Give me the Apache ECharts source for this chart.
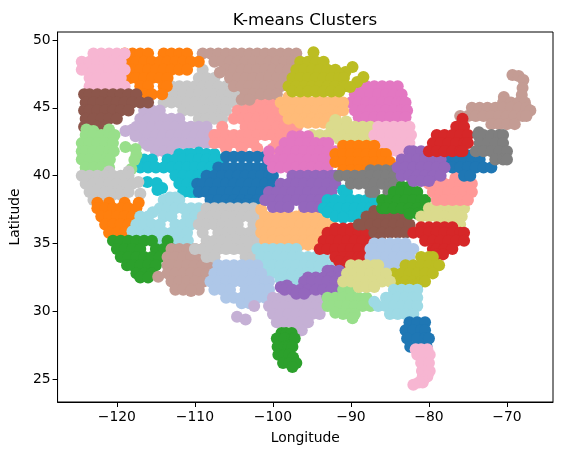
<!DOCTYPE html>
<html><head><meta charset="utf-8">
<script src="https://cdn.jsdelivr.net/npm/echarts@6/dist/echarts.min.js"></script>
<style>html,body{margin:0;padding:0;background:#fff}#c{width:562px;height:455px}</style></head>
<body><div id="c"></div>
<script>
const xTicks=[-120,-110,-100,-90,-80,-70];
const yTicks=[25,30,35,40,45,50];
// each row: [latitude, [longitudes]]
const grayN=[[47.8,[-109]],[47.2,[-109.5,-108.5,-107.5]],[46.6,[-113,-112,-111,-110,-109,-108,-107,-106,-105]],[46,[-114,-113.5,-112.5,-111.5,-110.5,-109.5,-108.5,-107.5,-106.5,-105.5,-104.5]],[45.4,[-114,-113,-112,-111,-110,-109,-108,-107,-106,-105,-104.5]],[44.8,[-111.5,-110.5,-109.5,-108.5,-107.5,-106.5,-106]],[44.2,[-109.5,-108.5,-107.5,-106.5]]];
const brownpinkN=[[49,[-109,-108,-107,-106,-105,-104,-103,-102,-101,-100,-99,-98,-97]],[48.4,[-107.5,-106.5,-105.5,-104.5,-103.5,-102.5,-101.5,-100.5,-99.5,-98.5,-97.5]],[47.8,[-106,-105,-104,-103,-102,-101,-100,-99,-98,-97]],[47.6,[-106.8]],[47.2,[-105.5,-104.5,-103.5,-102.5,-101.5,-100.5,-99.5,-98.5,-97.5]],[46.6,[-105,-104,-103,-102,-101,-100,-99]],[46,[-103.5,-102.5,-101.5,-100.5,-99.5]],[45.6,[-104,-103]]];
const orangeN=[[49,[-119,-118,-117,-116,-114,-113,-112,-111]],[48.4,[-118.5,-117.5,-116.5,-115.5,-114.5,-113.5,-112.5,-111.5,-110.5,-109.5]],[47.8,[-118,-117,-116,-115,-114,-113,-112,-111]],[47.2,[-118.3,-117.5,-116.5,-115.5,-114.5,-113.5]],[46.6,[-117,-116,-114,-113.6]],[46,[-116.5,-115.5,-114.2]]];
const pinkNW=[[49,[-123,-122,-121,-120,-119]],[48.4,[-124.5,-123.5,-122.5,-121.5,-120.5,-119.5]],[47.8,[-124.5,-124,-123,-122,-121,-120,-119]],[47.2,[-123.5,-122.5,-121.5,-120.5,-119.5]],[46.6,[-123.5,-123,-122,-121,-120,-119]]];
const purpleL=[[44.8,[-116.5,-115.5,-114.5]],[44.2,[-117,-116,-115,-114,-113,-112]],[43.6,[-117.5,-116.5,-115.5,-114.5,-113.5,-112.5,-111.5,-110.5,-109.5,-108.5]],[43.4,[-118]],[43.3,[-118.9]],[43,[-117,-116,-115,-114,-113,-112,-111,-110,-109,-108,-107.5]],[42.9,[-117.6]],[42.4,[-116.5,-115.5,-114.5,-113.5,-112.5,-111.5,-110.5,-109.5,-108.5]],[42.2,[-116]],[41.8,[-115,-114,-113]]];
const cyanW=[[41.7,[-109.5]],[41.6,[-112,-111,-110.5,-108.5,-107.5]],[41.2,[-116.5,-115.5,-113.5,-112.5,-111.5,-110.5,-109.5,-108.5,-107.5,-106.5]],[40.6,[-117,-116,-115,-114,-113,-112,-111,-110,-109,-108,-107]],[40,[-112.5,-111.5,-110.5,-109.5,-108.5]],[39.54,[-116.1]],[39.47,[-114.9]],[39.4,[-112,-111,-110,-109]],[39.1,[-114.2]],[38.95,[-114.8]],[38.8,[-111.5,-110.5,-110]]];
const salmonN=[[45.4,[-103,-102,-101,-100,-99.5]],[44.8,[-104.5,-103.5,-102.5,-101.5,-100.5,-99.5,-98.5]],[44.2,[-105,-104,-103,-102,-101,-100,-99,-98,-97.5]],[43.6,[-106.5,-103.5,-102.5,-101.5,-100.5,-99.5,-98.5,-97.5,-96.9]],[43,[-107.5,-107,-106,-105,-104,-103,-102,-101,-100,-99,-98]],[42.4,[-107.5,-106.5,-105.5,-104.5,-103.5,-102.5,-99.5,-98.5]],[42,[-106,-104,-102,-100]]];
const blueC=[[41.4,[-106,-105,-104,-103,-102,-101]],[40.6,[-107,-106,-105,-104,-103,-102,-101,-100.5]],[40,[-108.5,-107.5,-106.5,-105.5,-104.5,-103.5,-102.5,-101.5,-100.5,-100]],[39.4,[-109.7,-109,-108,-107,-106,-105,-104,-103,-102,-101,-100]],[38.8,[-109.5,-108.5,-107.5,-106.5,-105.5,-104.5,-103.5,-102.5,-101.5,-100.5]],[38.2,[-108,-107,-106,-105,-104,-103,-102,-101]],[37.9,[-105.5,-104.5,-103.5,-102.5]]];
const brownNW=[[46,[-124.2,-123.5,-122.5,-121.5,-120.5,-119.5,-118.5,-117.5]],[45.4,[-124,-123,-122,-121,-120,-119,-118,-117,-116]],[44.8,[-124.2,-123.5,-122.5,-121.5,-120.5,-119.5,-118.5]],[44.2,[-124,-123,-122,-121,-120]],[43.6,[-124.2,-123.5,-122.5,-121.5]]];
const greenL=[[43.4,[-123.9,-121]],[43.3,[-123]],[43,[-124,-123,-122,-121,-120.3]],[42.4,[-124.5,-123.5,-122.5,-121.5,-120.5]],[42.12,[-118.9]],[41.97,[-117.6]],[41.8,[-124.5,-124,-123,-122,-121,-120.4]],[41.53,[-117.5]],[41.2,[-124.5,-123.5,-122.5,-121.5,-120.9]],[41.16,[-117.76]],[40.6,[-124,-123,-122,-121]],[40.5,[-118.14]]];
const graySW=[[40.3,[-121,-118.5]],[40,[-124.5,-123.5,-122.5,-121.5,-120.5,-119.5,-118.5]],[39.54,[-117.24]],[39.4,[-124,-123,-122,-121,-120,-119,-118]],[38.8,[-123.5,-122.5,-121.5,-120.5,-119.5,-118.5]],[38.66,[-116.99]],[38.6,[-120.5,-119.5]],[38.2,[-123,-122]]];
const orangeSW=[[38,[-122.5,-121,-119,-117.2]],[37.6,[-122.5,-121.5,-120.5,-119.5,-118.5,-117.5]],[37,[-122,-121,-120,-119,-118]],[36.4,[-121.5,-120.5,-119.5,-118.5]],[35.8,[-121,-120,-119]]];
const paleCyanW=[[38.4,[-113.2,-112.5]],[38.2,[-114,-113,-112]],[37.6,[-114.5,-113.5,-112.5,-111.5,-110.5,-109.5]],[37.3,[-115.4]],[37,[-117,-116,-114,-113,-111,-110]],[36.4,[-117.5,-116.5,-115.5,-114.5,-112.5,-111.5,-110.5]],[35.9,[-118]],[35.8,[-117,-116,-115,-114,-113,-112,-111]],[35.2,[-114.5,-113.5,-112.5,-111.5,-110.9]]];
const greenSW=[[35.2,[-120.5,-119.5,-118.5,-117.5,-116.5,-115.5,-113.5]],[34.6,[-120,-119,-118,-117,-115,-114,-113]],[34,[-119.5,-118.5,-117.5,-116.5,-115.5,-114.5]],[33.4,[-118.7,-118,-117,-116,-115]],[32.8,[-117.5,-116.5,-115.5]],[32.5,[-117,-116]]];
const brownpinkSW=[[34.6,[-113,-112,-111,-110,-109,-108]],[34,[-113.5,-112.5,-111.5,-110.5,-109.5,-108.5,-107.5]],[33.4,[-113.5,-113,-112,-111,-110,-109,-108]],[32.8,[-113.5,-112.5,-111.5,-110.5,-109.5,-108.5]],[32.55,[-114.7]],[32.2,[-113,-112,-111,-110,-109,-108.9]],[31.6,[-112.5,-111.5,-110.5,-109.5]],[31.5,[-110.5]]];
const magentaN=[[46.6,[-89,-88,-87,-86,-85,-84]],[46,[-89.5,-88.5,-87.5,-86.5,-85.5,-84.5,-83.5]],[45.4,[-90,-89,-88,-87,-86,-85,-84,-83.5,-83]],[44.8,[-89.5,-88.5,-87.5,-86.5,-85.5,-84.5,-83.5,-82.8]],[44.3,[-89,-88,-87,-86,-85,-84,-83]]];
const peachN=[[45.8,[-98,-96,-94,-92]],[45.4,[-99,-98,-97,-96,-95,-94,-93,-92,-91]],[44.8,[-98.5,-97.5,-96.5,-95.5,-94.5,-93.5,-92.5,-91.5,-91]],[44.2,[-98,-97,-96,-95,-94,-93,-92]],[43.9,[-96.5,-95.5,-94.5,-93.5]]];
const oliveN=[[49.1,[-94.8]],[48.4,[-96.5,-95.5,-94.5,-93.5]],[48.01,[-89.8]],[47.8,[-97,-96,-95,-94,-93,-92]],[47.64,[-90.7]],[47.4,[-91.5]],[47.28,[-88.4]],[47.2,[-97.5,-96.5,-95.5,-94.5,-93.5,-92.5,-91.5,-90.9]],[46.9,[-89.2]],[46.6,[-98,-97,-96,-95,-94,-93,-92,-91,-90.7]],[46.54,[-90.1]],[46.2,[-97.5,-96.5,-95.5,-94.5,-93.5,-92.5,-91.5]]];
const yellowN=[[44.1,[-92]],[44,[-90.6]],[43.6,[-92.5,-91.5,-90.5,-89.5,-88.5,-87.5]],[43,[-95,-94,-93,-92,-91,-90,-89,-88,-87.5]],[42.7,[-91.5,-90.5,-89.5,-88.5,-87.5]]];
const pinkM=[[43.6,[-86.5,-85.5,-84.5,-83.5,-82.5]],[43,[-87,-86,-85,-84,-83,-82.3]],[42.4,[-86.5,-85.5,-84.5,-83.5,-82.5]],[41.8,[-86,-85,-84,-83]]];
const magentaM=[[42.9,[-97.5,-96.5,-95.5]],[42.4,[-98.5,-97.5,-96.5,-95.5,-94.5,-93.5,-92.9]],[41.8,[-100.5,-99,-98,-97,-96,-95,-94,-93,-92]],[41.2,[-100.5,-99.5,-98.5,-97.5,-96.5,-95.5,-94.5,-93.5,-92.5]],[40.6,[-100,-99,-98,-97,-96,-95,-94,-93]]];
const orangeM=[[42.2,[-91,-90,-89,-88,-87]],[41.6,[-92,-91,-90,-89,-88,-87,-86,-85.5]],[41,[-92,-91,-90,-89,-88,-87,-86,-85]],[40.4,[-91,-90,-89,-88]]];
const purpleM=[[40,[-97.5,-96.5,-95.5,-94.5,-93.5,-92.5,-92]],[39.4,[-99,-98,-97,-96,-95,-94,-93,-92]],[38.8,[-100.5,-99.5,-98.5,-97.5,-96.5,-95.5,-94.5,-93.5,-92.5]],[38.2,[-101,-100,-99,-98,-97,-96,-95,-94,-93]],[37.7,[-100,-99,-98,-96,-95,-94]]];
const grayM=[[40.4,[-87.5,-86.5,-85.5,-84.5]],[40,[-91.5,-90.5,-89.5,-88.5,-87.5,-86.5,-85.5,-84.5,-84.4]],[39.4,[-90,-89,-88,-87,-86,-85,-84.5]],[38.8,[-87.5,-87,-85.2,-84.5]]];
const greenM=[[39.2,[-83.5,-82.5]],[38.8,[-84.5,-83.5,-82.5,-81.5]],[38.2,[-86,-85,-84,-83,-82,-81,-80.5]],[37.6,[-86,-85.5,-84.5,-83.5,-82.5,-81.5,-80.5]],[37.2,[-82.5,-81.5]]];
const cyanM=[[38.9,[-91]],[38.8,[-90.5]],[38.2,[-93,-92,-91,-90,-89,-88,-87]],[37.6,[-93.5,-92.5,-91.5,-90.5,-89.5,-88.5,-87.5]],[37.3,[-93]],[37,[-92,-91,-90,-89]],[36.9,[-91]]];
const brownM=[[37.4,[-87,-85.2]],[37,[-88,-87,-86,-85,-84,-83]],[36.4,[-89,-88.5,-87.5,-86.5,-85.5,-84.5,-83.5,-82.5]],[35.8,[-87,-86,-85,-84,-83]],[35.4,[-86.3]]];
const peachM=[[37.5,[-101.5,-95]],[37.4,[-96]],[37,[-101,-100,-99,-98,-97,-96,-95,-94,-93.5]],[36.4,[-101.5,-100.5,-99.5,-98.5,-97.5,-96.5,-95.5,-94.5,-93.5,-92.5]],[35.8,[-101.5,-101,-100,-99,-98,-97,-96,-95,-94]],[35.2,[-101,-100,-99,-98,-97,-96,-95,-94.8]],[34.9,[-97.5,-96.5,-95.5,-94.5]]];
const grayC=[[37.6,[-108.5,-107.5,-106.5,-105.5,-104.5,-103.5,-102.5]],[37,[-109,-108,-107,-106,-105,-104,-103,-102]],[36.4,[-109.5,-108.5,-107.5,-106.5,-105.5,-104.5,-102.5,-101.5]],[35.8,[-109,-107,-106,-105,-104,-103,-102]],[35.2,[-108.5,-107.5,-106.5,-105.5,-104.5,-103.5,-102.5,-101.9]],[34.6,[-110,-109,-108,-107,-106,-105,-104,-103,-102]],[34,[-108.5,-107.5,-103.5,-102.5]]];
const paleCyanM=[[34.6,[-102,-101,-100,-99,-98,-97]],[34,[-101.5,-100.5,-99.5,-98.5,-97.5,-96.5,-95.5,-94.5,-93.5]],[33.4,[-101,-100,-99,-98,-97,-96,-95,-94,-93,-92.5]],[32.8,[-100.5,-99.5,-98.5,-97.5,-96.5,-95.5,-94.5]],[32.35,[-99,-98,-97]]];
const redM=[[36.1,[-92,-91,-90,-89]],[35.8,[-93,-92,-91,-90,-89,-88]],[35.2,[-93.5,-92.5,-91.5,-90.5,-89.5,-88.5,-87.5]],[34.6,[-94,-93,-92,-91,-90,-89,-88]],[34,[-92,-91,-90,-89,-88.5]],[33.7,[-91.5]],[33.6,[-90.5]]];
const yellowE=[[37.6,[-80,-79.5,-78.5,-77.5,-76.5,-75.5]],[37,[-81,-80,-79,-78,-77,-76,-75.8]],[36.4,[-78,-77,-76]]];
const salmonE=[[39.85,[-76.6]],[39.7,[-78.5]],[39.4,[-80,-79,-78,-77,-76,-75,-74.5]],[38.8,[-79.5,-78.5,-77.5,-76.5,-75.5,-74.5]],[38.2,[-79,-78,-77,-76,-75]]];
const redSE=[[36.2,[-81,-80,-79,-78,-77]],[35.8,[-82,-81,-80,-79,-78,-77,-76,-75.5]],[35.2,[-80.5,-79.5,-78.5,-77.5,-76.5,-75.5]],[34.6,[-79.5,-79,-78,-77]],[34.2,[-79,-78.2]]];
const purpleS=[[33,[-93,-92.5,-91.5]],[32.5,[-95.5,-94.5,-93.5,-92.5,-91.5]],[32.2,[-96,-95,-94,-93,-92,-91]],[31.9,[-98.2]],[31.8,[-99]],[31.6,[-98.5,-97.5,-96.5,-95.5,-94.5,-93.5,-92.5,-91.5]],[31.3,[-97,-96]],[31.2,[-91.3]],[31.1,[-93,-92]]];
const blueSW=[[33.4,[-107,-106,-105,-104,-103,-102]],[32.8,[-107.5,-106.5,-105.5,-104.5,-103.5,-102.5,-101.5]],[32.2,[-108,-107,-106,-105,-104,-103,-102,-101,-100.5]],[31.6,[-107.5,-106.5,-105.5,-103.5,-102.5,-101.5,-100.5]],[31,[-106,-105,-104,-103,-102,-101]],[30.6,[-104,-103]]];
const purpleSW=[[31,[-100,-99,-98,-97,-96,-95,-94]],[30.4,[-102.4,-100.5,-99.5,-98.5,-97.5,-96.5,-95.5,-94.5,-93.5]],[29.8,[-100,-99,-98,-97,-96,-95,-94]],[29.6,[-104.6]],[29.4,[-103.5]],[29.2,[-99.5,-98.5,-97.5,-96.5,-95.5]],[28.6,[-97,-96.3]]];
const greenTX=[[28.4,[-98.9,-98.3,-97.6]],[28,[-99.5,-98.5,-97.5,-97.2]],[27.4,[-99.4,-98.5,-98,-97.5]],[26.8,[-99.3,-98.5,-97.9]],[26.6,[-97.4]],[26.2,[-98.7,-97.9,-97]],[25.9,[-97.5]]];
const greenS=[[31.6,[-91,-90]],[31,[-93,-92,-91,-90,-89,-88]],[30.4,[-93,-92.5,-91.5,-90.5,-89.5,-88.5,-87.5]],[29.9,[-92]],[29.8,[-91,-90,-89.5]],[29.5,[-89.8]]];
const yellowS=[[33.4,[-90,-89,-88,-87,-86.5]],[32.8,[-90.5,-89.5,-88.5,-87.5,-86.5,-85.5]],[32.2,[-91,-90,-89,-88,-87,-86,-85]],[31.8,[-89,-88,-87]]];
const blueE=[[35,[-87,-86,-85,-84,-83]],[34.6,[-87.5,-87,-86,-85,-84,-83,-82]],[34,[-87.5,-86.5,-85.5,-84.5,-83.5,-82.5]],[33.4,[-86,-85,-84]]];
const oliveSE=[[34,[-81,-80,-79.5]],[33.4,[-83,-82,-81,-80,-79,-78.7]],[32.8,[-84.5,-83.5,-82.5,-81.5,-80.5,-79.5]],[32.2,[-84,-83,-82,-81,-80.5]],[31.9,[-83,-82,-81.5]]];
const paleCyanFL=[[31.6,[-84.5,-83.5,-82.5,-81.5]],[31,[-85.5,-85,-84,-83,-82,-81.5]],[30.7,[-87]],[30.4,[-86.5,-85.5,-84.5,-83.5,-82.5,-81.5]],[29.8,[-85,-84,-83,-82]]];
const blueFL=[[29.2,[-82.5,-81.5,-80.5]],[28.6,[-83,-82,-81,-80.5]],[28,[-82.8,-81.5,-80.5,-80]],[27.4,[-82.4,-81,-80.3]]];
const pinkFL=[[27.2,[-81.7,-81,-80.2]],[26.8,[-81.5,-80.5,-79.9]],[26.2,[-81,-80]],[25.6,[-80.9,-80.5,-79.9]],[25.2,[-80.8,-80.2]],[24.95,[-80.7]],[24.75,[-80.8,-81.3]],[24.6,[-82]]];
const brownpinkNE=[[47.42,[-69.3]],[47.35,[-68.5]],[47.05,[-67.9]],[46.47,[-68]],[45.95,[-68.1]],[45.8,[-70.4]],[45.4,[-70.5,-69.5,-68.5,-67.7]],[45,[-74.5,-73.5,-72.5,-71.5,-70.5,-69.5,-68.5,-67.5]],[44.8,[-67]],[44.4,[-76,-75,-74,-73,-72,-71,-70,-69,-68,-67.5]],[43.8,[-72,-71,-70,-69]]];
const redNE=[[44.2,[-75.7]],[43.6,[-76.5,-75.5]],[43,[-79,-78,-77,-76,-75]],[42.4,[-79.5,-78.5,-77.5,-76.5,-75.5,-75]],[41.8,[-80,-79,-78,-77,-76,-75.7]]];
const grayNE=[[43.2,[-73.6]],[43,[-73.7,-73,-72,-71,-70.5]],[42.4,[-73.5,-72.5,-71.5,-70.5]],[41.8,[-74,-73,-72,-71,-70]],[41.2,[-71.5,-70.5,-70]]];
const blueNE=[[41.5,[-76,-75]],[41.2,[-77.5,-76.5,-75.5,-74.5,-73.5]],[40.6,[-77,-76,-75,-74,-73,-72]],[40,[-75.5,-74.7]]];
const purpleNE=[[41.8,[-82.5,-82,-81,-80]],[41.2,[-83.5,-82.5,-81.5,-80.5,-79.5,-78.5]],[40.6,[-84,-83,-82,-81,-80,-79,-78]],[40,[-83.5,-82.5,-81.5,-80.5,-79.5,-78.5]],[39.6,[-82,-81,-80]]];

const tab20={blue:'#1f77b4',lblue:'#aec7e8',orange:'#ff7f0e',peach:'#ffbb78',green:'#2ca02c',lgreen:'#98df8a',red:'#d62728',salmon:'#ff9896',purple:'#9467bd',lpurple:'#c5b0d5',brown:'#8c564b',bpink:'#c49c94',magenta:'#e377c2',pink:'#f7b6d2',gray:'#7f7f7f',lgray:'#c7c7c7',olive:'#bcbd22',yellow:'#dbdb8d',cyan:'#17becf',pcyan:'#9edae5'};
const layers=[
[grayN,'lgray'],[purpleL,'lpurple'],[cyanW,'cyan'],[salmonN,'salmon'],[brownpinkN,'bpink'],[orangeN,'orange'],[pinkNW,'pink'],[brownNW,'brown'],[greenL,'lgreen'],[graySW,'lgray'],[orangeSW,'orange'],[paleCyanW,'pcyan'],[greenSW,'green'],[brownpinkSW,'bpink'],[blueC,'blue'],[magentaN,'magenta'],[peachN,'peach'],[oliveN,'olive'],[yellowN,'yellow'],[pinkM,'pink'],[magentaM,'magenta'],[orangeM,'orange'],[grayC,'lgray'],[peachM,'peach'],[purpleM,'purple'],[paleCyanM,'pcyan'],[cyanM,'cyan'],[grayM,'gray'],[redM,'red'],[brownM,'brown'],[greenM,'green'],[yellowE,'yellow'],[salmonE,'salmon'],[redSE,'red'],[blueSW,'lblue'],[purpleSW,'lpurple'],[purpleS,'purple'],[greenTX,'green'],[greenS,'lgreen'],[blueE,'lblue'],[oliveSE,'olive'],[yellowS,'yellow'],[paleCyanFL,'pcyan'],[blueFL,'blue'],[pinkFL,'pink'],[brownpinkNE,'bpink'],[blueNE,'blue'],[purpleNE,'purple'],[redNE,'red'],[grayNE,'gray']
];
const pts=rows=>rows.flatMap(([lat,lons])=>lons.map(lon=>[lon,lat]));
const font='"DejaVu Sans"';
const fmt=v=>String(v).replace('-','\u2212');
const axisBase={type:'value',splitLine:{show:false},
 axisLine:{show:true,onZero:false,lineStyle:{color:'#000',width:1}},
 nameTextStyle:{color:'#000',fontFamily:font,fontSize:13.9},nameLocation:'middle'};
const chart=echarts.init(document.getElementById('c'),null,{renderer:'canvas'});
chart.setOption({animation:false,backgroundColor:'#fff',
 title:{text:'K-means Clusters',left:300,top:7,textAlign:'center',textStyle:{fontFamily:font,fontSize:16.7,fontWeight:'normal',color:'#000'}},
 grid:{left:57.5,right:9,top:32,bottom:53,show:true,borderColor:'#000',borderWidth:1,backgroundColor:'#fff'},
 xAxis:{...axisBase,min:-127.6,max:-64.1,name:'Longitude',nameGap:29,
  axisTick:{show:true,length:5,lineStyle:{color:'#000',width:1},customValues:xTicks},
  axisLabel:{color:'#000',fontFamily:font,fontSize:13.9,margin:8,formatter:fmt,customValues:xTicks}},
 yAxis:{...axisBase,min:23.32,max:50.59,name:'Latitude',nameGap:30,
  axisTick:{show:true,length:5,lineStyle:{color:'#000',width:1},customValues:yTicks},
  axisLabel:{color:'#000',fontFamily:font,fontSize:13.9,margin:7,formatter:fmt,customValues:yTicks}},
 series:layers.map(([rows,c])=>({type:'scatter',data:pts(rows),symbol:'circle',symbolSize:12,silent:true,itemStyle:{color:tab20[c],opacity:1}}))
});
</script></body></html>
